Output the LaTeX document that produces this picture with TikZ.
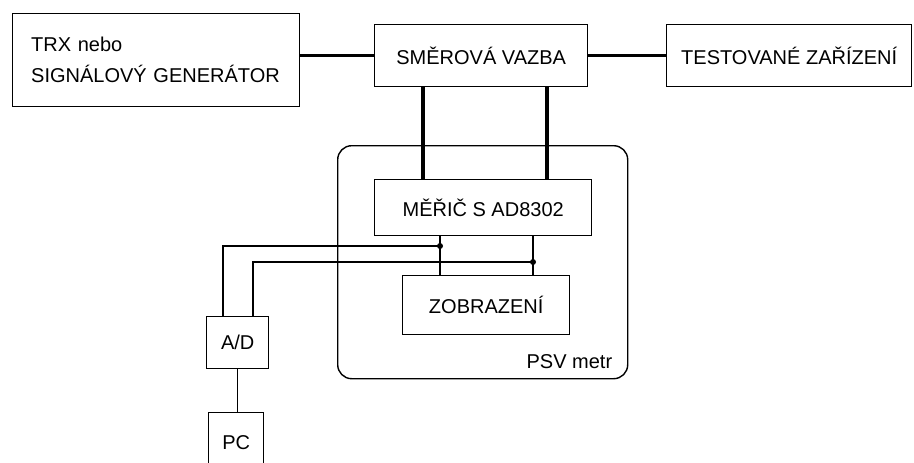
\documentclass[tikz,border=0pt]{standalone}
\usepackage{fontspec}
\setmainfont{Liberation Sans}

\tikzset{
  blok/.style={draw, line width=1.4pt, anchor=north west, inner sep=0pt,
    font=\fontsize{20}{31}\selectfont},
  tlusty/.style={line width=3.4pt},
  tenky/.style={line width=1.5pt},
  uzel/.style={circle, fill, inner sep=0pt, minimum size=6pt}
}

\begin{document}
\begin{tikzpicture}[x=1pt, y=-1pt]
  \useasboundingbox (0,0) rectangle (914,463);
  \clip (0,0) rectangle (914,463);

  % PSV metr (obal)
  \node[draw, line width=1.4pt, rounded corners=14pt, anchor=north west,
    minimum width=290pt, minimum height=233pt, inner sep=0pt] (psv) at (337,145) {};
  \node[anchor=south east, inner sep=0pt, font=\fontsize{20}{24}\selectfont] (psvlabel)
    at ([shift={(-16,-11)}]psv.south east) {PSV metr};

  % horni rada
  \node[blok, minimum width=287pt, minimum height=93pt, text width=250pt, align=left] (trx)
    at (12,13) {TRX nebo\\SIGNÁLOVÝ GENERÁTOR};
  \node[blok, minimum width=213pt, minimum height=62pt] (smer) at (374,24) {SMĚROVÁ VAZBA};
  \node[blok, minimum width=245pt, minimum height=62pt] (test) at (666,24) {TESTOVANÉ ZAŘÍZENÍ};

  % merak a zobrazeni
  \node[blok, minimum width=217pt, minimum height=56pt] (mer) at (374,179) {MĚŘIČ S AD8302};
  \node[blok, minimum width=167pt, minimum height=59pt] (zob) at (402,275) {ZOBRAZENÍ};

  % A/D a PC
  \node[blok, minimum width=62pt, minimum height=52pt] (ad) at (206,316) {A/D};
  \node[blok, minimum width=55pt, minimum height=60pt] (pc) at (208,412) {PC};

  % silne spoje
  \draw[tlusty] (trx.east |- smer.west) -- (smer.west);
  \draw[tlusty] (smer.east) -- (test.west);
  \draw[tlusty] ([xshift=49pt]smer.south west) -- ([xshift=49pt]mer.north west);
  \draw[tlusty] ([xshift=173pt]smer.south west) -- ([xshift=173pt]mer.north west);

  % tenke spoje
  \coordinate (j1) at (440,246);
  \coordinate (j2) at (533,262);
  \draw[tenky] (j1 |- mer.south) -- (j1 |- zob.north);
  \draw[tenky] (j2 |- mer.south) -- (j2 |- zob.north);
  \draw[tenky] (j1) -| ([xshift=17pt]ad.north west);
  \draw[tenky] (j2) -| ([xshift=47pt]ad.north west);
  \draw[tenky] (ad.south) -- (ad.south |- pc.north);
  \node[uzel] (u1) at (j1) {};
  \node[uzel] (u2) at (j2) {};
\end{tikzpicture}
\end{document}
